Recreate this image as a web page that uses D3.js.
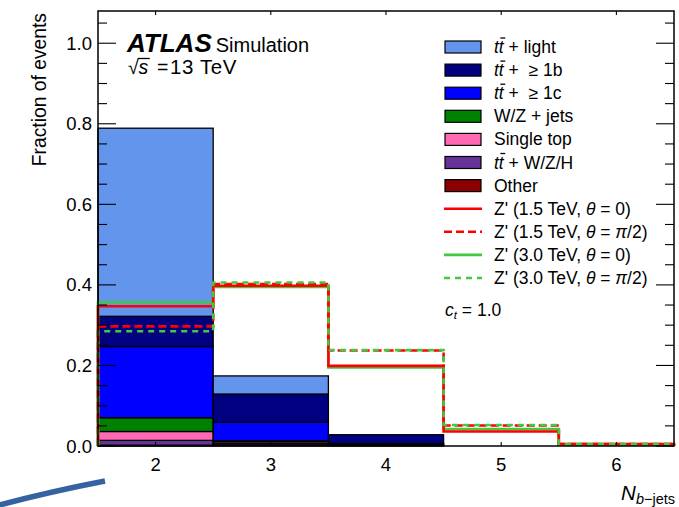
<!DOCTYPE html>
<html>
<head>
<meta charset="utf-8">
<script src="https://cdn.jsdelivr.net/npm/d3@7/dist/d3.min.js"></script>
<style>
  html, body { margin: 0; padding: 0; background: #fff; }
  svg { display: block; font-family: "Liberation Sans", Arial, sans-serif; }
</style>
</head>
<body>
<svg id="chart" width="679" height="507"></svg>
<script>
// N_b-jets bins
const bins = [2, 3, 4, 5, 6];

// stacked backgrounds (fraction of events), bottom to top
const other     = [0.002, 0.003, 0.001, 0, 0];
const ttWZH     = [0.012, 0.004, 0.001, 0, 0];
const singleTop = [0.022, 0.004, 0.001, 0, 0];
const wzJets    = [0.034, 0.002, 0.001, 0, 0];
const ttC       = [0.177, 0.046, 0.002, 0, 0];
const ttB       = [0.075, 0.070, 0.022, 0, 0];
const ttLight   = [0.467, 0.045, 0, 0, 0];

// Z' signal shapes
const z15th0   = [0.347, 0.398, 0.199, 0.036, 0.005];
const z15thPi2 = [0.297, 0.402, 0.237, 0.051, 0.005];
const z30th0   = [0.357, 0.395, 0.195, 0.042, 0.004];
const z30thPi2 = [0.285, 0.406, 0.238, 0.052, 0.005];

const yTicks = [0.0, 0.2, 0.4, 0.6, 0.8, 1.0];

const stackKeys = [
  { key: "other", values: other, color: "#8b0000" },
  { key: "ttWZH", values: ttWZH, color: "#663399" },
  { key: "singleTop", values: singleTop, color: "#ff69b4" },
  { key: "wzJets", values: wzJets, color: "#008000" },
  { key: "ttC", values: ttC, color: "#0000ff" },
  { key: "ttB", values: ttB, color: "#000080" },
  { key: "ttLight", values: ttLight, color: "#6495ed" },
];

const RED = "#ff0000", GREEN = "#42c842";
const signals = [
  { values: z30th0, color: GREEN, dash: null },
  { values: z15th0, color: RED, dash: null },
  { values: z15thPi2, color: RED, dash: "8 4" },
  { values: z30thPi2, color: GREEN, dash: "6 5" },
];

const svg = d3.select("#chart");
const M = { left: 98, right: 674, top: 11, bottom: 446 };
const x = d3.scaleLinear().domain([1.5, 6.5]).range([M.left, M.right]);
const y = d3.scaleLinear().domain([0, 1.08]).range([M.bottom, M.top]);
const NB = "\u00a0";

// stacked histogram
const table = bins.map((b, i) => {
  const row = { bin: b };
  stackKeys.forEach(s => { row[s.key] = s.values[i]; });
  return row;
});
const series = d3.stack().keys(stackKeys.map(s => s.key))(table);
const gStack = svg.append("g");
series.forEach((s, si) => {
  gStack.selectAll(null).data(s.filter(d => d[1] - d[0] > 0)).join("rect")
    .attr("x", d => x(d.data.bin - 0.5))
    .attr("width", x(1.5 + 1) - x(1.5))
    .attr("y", d => y(d[1]))
    .attr("height", d => y(d[0]) - y(d[1]))
    .attr("fill", stackKeys[si].color)
    .attr("stroke", "#000").attr("stroke-width", 1.3);
});

// signal step lines
const stepPoints = vals => {
  const pts = [[bins[0] - 0.5, 0]];
  vals.forEach((v, i) => {
    pts.push([bins[i] - 0.5, v]);
    pts.push([bins[i] + 0.5, v]);
  });
  pts.push([bins[bins.length - 1] + 0.5, 0]);
  return pts;
};
const line = d3.line().x(d => x(d[0])).y(d => y(d[1]));
signals.forEach(s => {
  svg.append("path")
    .attr("d", line(stepPoints(s.values)))
    .attr("fill", "none").attr("stroke", s.color).attr("stroke-width", 2.6)
    .attr("stroke-dasharray", s.dash);
});

// frame + ticks
const gAx = svg.append("g").attr("stroke", "#000");
gAx.append("rect")
  .attr("x", M.left).attr("y", M.top)
  .attr("width", M.right - M.left).attr("height", M.bottom - M.top)
  .attr("fill", "none").attr("stroke-width", 1.5);
const minor = d3.range(0, 1.0751, 0.05);
minor.forEach(v => {
  const major = yTicks.some(t => Math.abs(t - v) < 1e-6);
  const len = major ? 18 : 9;
  gAx.append("line").attr("x1", M.left).attr("x2", M.left + len)
    .attr("y1", y(v)).attr("y2", y(v)).attr("stroke-width", 1.1);
  gAx.append("line").attr("x1", M.right).attr("x2", M.right - len)
    .attr("y1", y(v)).attr("y2", y(v)).attr("stroke-width", 1.1);
});
bins.forEach(b => {
  gAx.append("line").attr("x1", x(b)).attr("x2", x(b))
    .attr("y1", M.bottom).attr("y2", M.bottom - 4).attr("stroke-width", 1.1);
  gAx.append("line").attr("x1", x(b)).attr("x2", x(b))
    .attr("y1", M.top).attr("y2", M.top + 4).attr("stroke-width", 1.1);
});

// tick labels
svg.append("g").selectAll("text").data(yTicks).join("text")
  .attr("x", 92).attr("y", d => y(d) + 6.5)
  .attr("text-anchor", "end").attr("font-size", 18.5).attr("fill", "#000")
  .text(d => d.toFixed(1));
svg.append("g").selectAll("text").data(bins).join("text")
  .attr("x", d => x(d)).attr("y", 471)
  .attr("text-anchor", "middle").attr("font-size", 18.5).attr("fill", "#000")
  .text(d => d);

// axis titles
svg.append("text")
  .attr("transform", `translate(46,${M.top + 2}) rotate(-90)`)
  .attr("text-anchor", "end").attr("font-size", 19.3).text("Fraction of events");
const xl = svg.append("text").attr("x", M.right + 1).attr("y", 500)
  .attr("text-anchor", "end").attr("font-size", 20.5);
xl.append("tspan").attr("font-style", "italic").text("N");
xl.append("tspan").attr("font-size", 14.5).attr("dy", 4).attr("font-style", "italic").text("b");
xl.append("tspan").attr("font-size", 14.5).text("\u2212jets");

// ATLAS label
const at = svg.append("text").attr("x", 127).attr("y", 52);
at.append("tspan").attr("font-size", 26).attr("font-weight", "bold")
  .attr("font-style", "italic").text("ATLAS");
at.append("tspan").attr("font-size", 20).attr("dx", 4).text("Simulation");
const rs = svg.append("text").attr("y", 74).attr("font-size", 19.5);
rs.append("tspan").attr("x", 128).text("\u221a");
rs.append("tspan").attr("x", 138.5).attr("font-style", "italic").text("s");
rs.append("tspan").attr("x", 157).text("=");
rs.append("tspan").attr("x", 170).attr("font-size", 20.5).attr("letter-spacing", 0.6).text("13 TeV");
// overline for sqrt
{
  const n = rs.node();
  const e0 = n.getExtentOfChar(0), e1 = n.getExtentOfChar(1);
  svg.append("line").attr("x1", e0.x + e0.width - 1).attr("x2", e1.x + e1.width + 1.5)
    .attr("y1", e0.y + 2.5).attr("y2", e0.y + 2.5).attr("stroke", "#000").attr("stroke-width", 1.3);
}

// legend
const lg = svg.append("g");
const LX = 445, LT = 494, LY0 = 47, LDY = 23.1;
const legendItems = [
  { kind: "box", color: "#6495ed", parts: [["tt", "tt"], [" + light"]] },
  { kind: "box", color: "#000080", parts: [["tt", "tt"], [" +" + NB + NB + "\u2265 1b"]] },
  { kind: "box", color: "#0000ff", parts: [["tt", "tt"], [" +" + NB + NB + "\u2265 1c"]] },
  { kind: "box", color: "#008000", parts: [["W/Z + jets"]] },
  { kind: "box", color: "#ff69b4", parts: [["Single top"]] },
  { kind: "box", color: "#663399", parts: [["tt", "tt"], [" + W/Z/H"]] },
  { kind: "box", color: "#8b0000", parts: [["Other"]] },
  { kind: "line", color: RED, dash: null, parts: [["Z' (1.5 TeV, "], ["\u03b8", "i"], [" = 0)"]] },
  { kind: "line", color: RED, dash: "8 4", parts: [["Z' (1.5 TeV, "], ["\u03b8", "i"], [" = "], ["\u03c0", "i"], ["/2)"]] },
  { kind: "line", color: GREEN, dash: null, parts: [["Z' (3.0 TeV, "], ["\u03b8", "i"], [" = 0)"]] },
  { kind: "line", color: GREEN, dash: "6 5", parts: [["Z' (3.0 TeV, "], ["\u03b8", "i"], [" = "], ["\u03c0", "i"], ["/2)"]] },
];
legendItems.forEach((it, i) => {
  const cy = LY0 + i * LDY;
  if (it.kind === "box") {
    lg.append("rect").attr("x", LX).attr("y", cy - 6).attr("width", 36).attr("height", 12)
      .attr("fill", it.color).attr("stroke", "#000").attr("stroke-width", 1.2);
  } else {
    lg.append("line").attr("x1", LX - 1).attr("x2", LX + 37).attr("y1", cy).attr("y2", cy)
      .attr("stroke", it.color).attr("stroke-width", 2.6).attr("stroke-dasharray", it.dash);
  }
  const t = lg.append("text").attr("x", LT).attr("y", cy + 6).attr("font-size", 17.5);
  let hasTT = false;
  it.parts.forEach(p => {
    const sp = t.append("tspan").text(p[0]);
    if (p[1] === "tt") { sp.attr("font-style", "italic"); hasTT = true; }
    if (p[1] === "i") sp.attr("font-style", "italic");
  });
  if (hasTT) {
    const e = t.node().getExtentOfChar(1);
    lg.append("line").attr("x1", e.x + 1.5).attr("x2", e.x + e.width + 1.5)
      .attr("y1", e.y + 1).attr("y2", e.y + 1).attr("stroke", "#000").attr("stroke-width", 1.3);
  }
});
const ct = svg.append("text").attr("x", LX).attr("y", 316).attr("font-size", 17.5);
ct.append("tspan").attr("font-style", "italic").text("c");
ct.append("tspan").attr("font-style", "italic").attr("font-size", 11.5).attr("dy", 3).text("t");
ct.append("tspan").attr("dy", -3).text(" = 1.0");

// stray stroke at lower left of the source image
svg.append("path").attr("d", "M-4,506 Q48,492 105,481")
  .attr("fill", "none").attr("stroke", "#3563a1").attr("stroke-width", 5.5);
</script>
</body>
</html>
